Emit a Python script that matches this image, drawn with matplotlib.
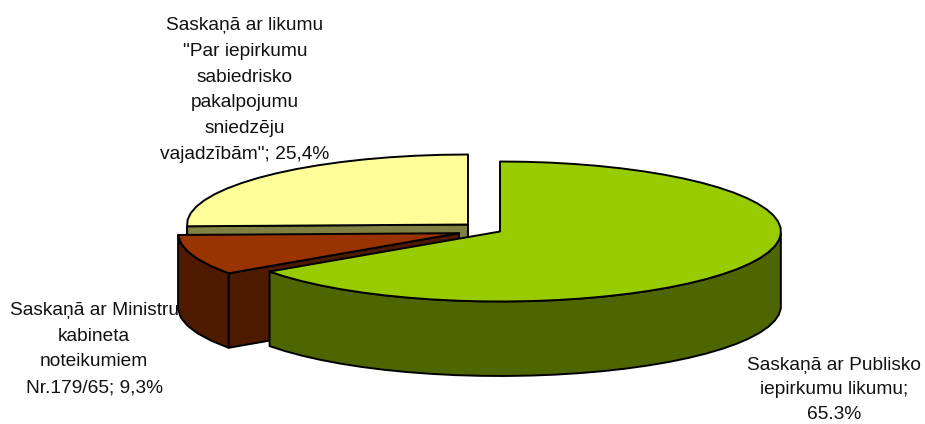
import numpy as np
import matplotlib
matplotlib.use("Agg")
import matplotlib.pyplot as plt
from matplotlib.patches import Polygon

categories = ['Saskaņā ar Publisko\niepirkumu likumu;\n65.3%',
              'Saskaņā ar Ministru\nkabineta\nnoteikumiem\nNr.179/65; 9,3%',
              'Saskaņā ar likumu\n"Par iepirkumu\nsabiedrisko\npakalpojumu\nsniedzēju\nvajadzībām"; 25,4%']
values = [65.3, 9.3, 25.4]
top_colors = ['#99CC00', '#993300', '#FFFF99']
side_colors = ['#4D6600', '#4D1A00', '#808040']
centers = [(500, 231.5), (459, 233.2), (468, 224.5)]
label_pos = [(834, 390), (94, 349), (245, 90)]
label_spacing = [1.6, 1.68, 1.68]

A, B, DEPTH = 281, 70, 74.5
W, H = 925, 424
plt.rcParams['font.family'] = ['Liberation Sans']
fig = plt.figure(figsize=(W / 100, H / 100), dpi=100)
ax = fig.add_axes([0, 0, 1, 1])
ax.set_xlim(0, W)
ax.set_ylim(H, 0)
ax.axis('off')

for txt, (x, y), sp in zip(categories, label_pos, label_spacing):
    ax.text(x, y, txt, ha='center', va='center', fontsize=13.8, linespacing=sp,
            color='#111111', zorder=1)

fracs = np.array(values) / sum(values) * 360
ends = np.cumsum(fracs)
starts = ends - fracs
LW = 1.4
EC = '#000000'


def pt(c, deg):
    t = np.radians(deg)
    return np.column_stack([c[0] + A * np.sin(t), c[1] - B * np.cos(t)])


def add(poly, fc, z):
    ax.add_patch(Polygon(poly, closed=True, fc=fc, ec=EC, lw=LW, joinstyle='round', zorder=z))


# draw back to front: yellow, brown, green
for i, z in [(2, 2), (1, 3), (0, 4)]:
    c, s, e = centers[i], starts[i], ends[i]
    th = np.linspace(s, e, max(int((e - s) / 5), 4))
    rim = pt(c, th)
    down = np.array([0, DEPTH])
    capex = np.array([c], dtype=float)
    if i in (1, 2):
        # cut face running from the slice start to the apex faces the viewer
        add(np.vstack([rim[:1], capex, capex + down, rim[:1] + down]), side_colors[i], z)
    vis = (th >= 90) & (th <= 270)
    if vis.any():
        r = rim[vis]
        add(np.vstack([r, (r + down)[::-1]]), side_colors[i], z)
    add(np.vstack([capex, rim]), top_colors[i], z + 0.5)

fig.savefig('out.png', dpi=100)
